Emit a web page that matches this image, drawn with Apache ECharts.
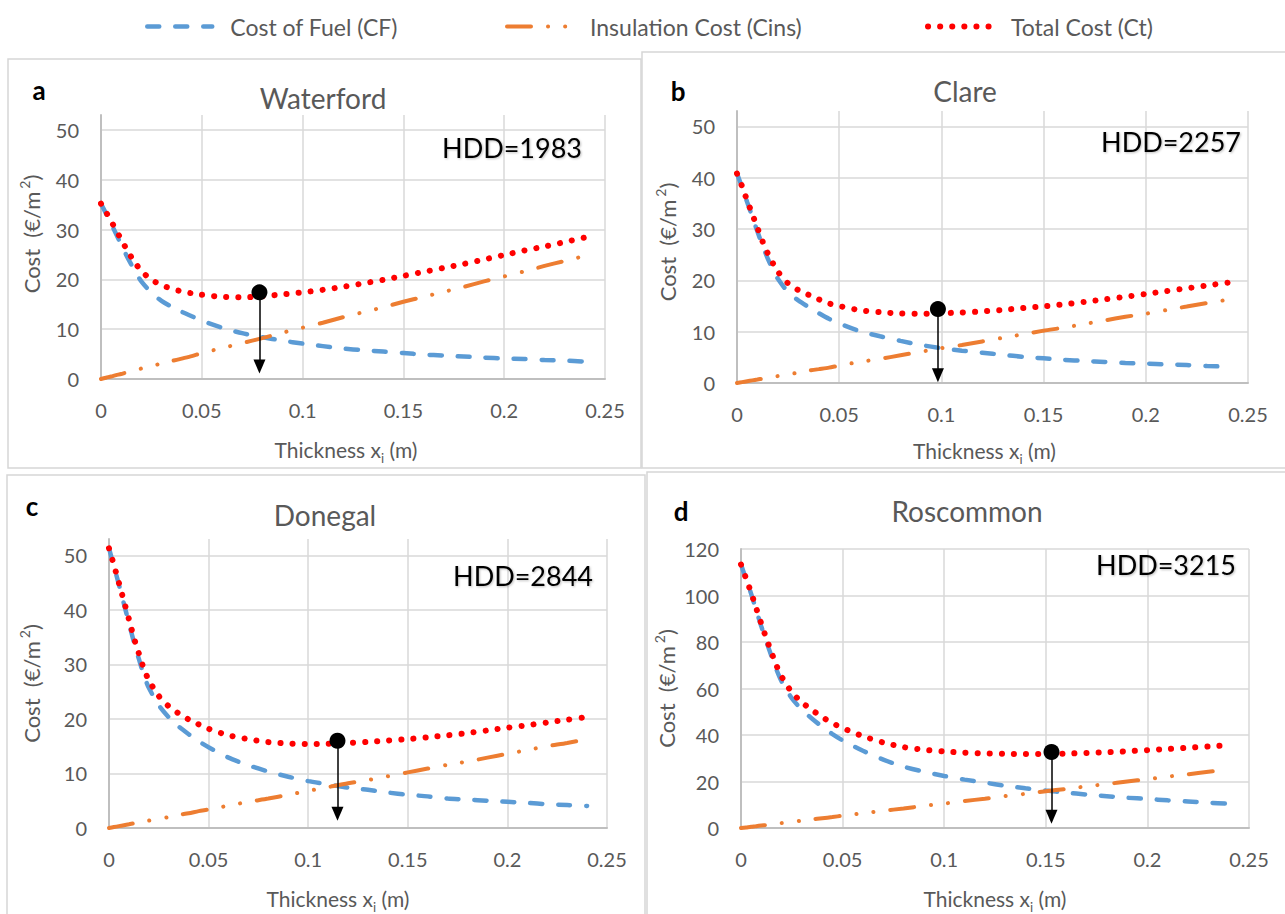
<!DOCTYPE html>
<html>
<head>
<meta charset="utf-8">
<title>Insulation thickness cost curves</title>
<script src="https://cdn.jsdelivr.net/npm/echarts@6/dist/echarts.min.js"></script>
<style>
  html, body { margin: 0; padding: 0; background: #fff; }
  #chart { width: 1285px; height: 914px; }
</style>
</head>
<body>
<div id="chart"></div>
<script>
var thickness = [0, 0.0025, 0.005, 0.0075, 0.01, 0.0125, 0.015, 0.0175, 0.02, 0.025, 0.03, 0.035, 0.04, 0.045, 0.05,
  0.06, 0.07, 0.08, 0.09, 0.1, 0.11, 0.12, 0.13, 0.14, 0.15, 0.16, 0.17, 0.18, 0.19, 0.2, 0.21, 0.22, 0.23, 0.24];

// Waterford
var waterfordCF = [35.2, 33.2, 31.2, 29.1, 27.0, 24.9, 23.0, 21.2, 19.6, 17.3, 15.7, 14.5, 13.5, 12.6, 11.7,
  10.3, 9.2, 8.4, 7.7, 7.1, 6.6, 6.1, 5.8, 5.5, 5.2, 4.9, 4.7, 4.5, 4.3, 4.1, 4.0, 3.8, 3.7, 3.5];
var waterfordCins = [0, 0.26, 0.5, 0.77, 1.0, 1.3, 1.5, 1.8, 2.1, 2.6, 3.1, 3.6, 4.1, 4.6, 5.2,
  6.2, 7.2, 8.2, 9.3, 10.3, 11.3, 12.4, 13.4, 14.4, 15.5, 16.5, 17.5, 18.5, 19.6, 20.6, 21.6, 22.7, 23.7, 24.7];
var waterfordCt = [35.2, 33.5, 31.7, 29.9, 28.0, 26.2, 24.5, 23.0, 21.7, 19.9, 18.9, 18.1, 17.6, 17.2, 16.9,
  16.5, 16.4, 16.6, 17.0, 17.4, 17.9, 18.5, 19.2, 19.9, 20.7, 21.5, 22.3, 23.1, 24.0, 24.9, 25.8, 26.6, 27.5, 28.4];

// Clare
var clareCF = [40.8, 38.1, 35.2, 32.4, 29.5, 26.8, 24.3, 22.2, 20.3, 17.7, 16.1, 14.8, 13.6, 12.5, 11.6,
  10.1, 9.1, 8.2, 7.4, 6.8, 6.3, 5.9, 5.5, 5.1, 4.8, 4.5, 4.3, 4.1, 3.9, 3.8, 3.6, 3.5, 3.3, 3.2];
var clareCins = [0, 0.17, 0.34, 0.51, 0.68, 0.85, 1.0, 1.2, 1.35, 1.7, 2.0, 2.4, 2.7, 3.0, 3.4,
  4.1, 4.7, 5.4, 6.1, 6.8, 7.4, 8.1, 8.8, 9.5, 10.2, 10.8, 11.5, 12.2, 12.9, 13.5, 14.2, 14.9, 15.6, 16.2];
var clareCt = [40.8, 38.3, 35.5, 32.9, 30.2, 27.6, 25.3, 23.4, 21.7, 19.4, 18.1, 17.2, 16.3, 15.5, 15.0,
  14.2, 13.8, 13.55, 13.5, 13.6, 13.75, 13.95, 14.25, 14.6, 14.95, 15.35, 15.8, 16.3, 16.8, 17.35, 17.9, 18.45, 19.0, 19.55];

// Donegal
var donegalCF = [51.3, 48.0, 44.6, 41.1, 37.6, 34.1, 31.0, 28.0, 25.7, 22.5, 20.3, 18.6, 17.2, 15.9, 14.8,
  12.9, 11.5, 10.35, 9.4, 8.6, 8.0, 7.4, 7.0, 6.5, 6.1, 5.8, 5.4, 5.2, 5.0, 4.8, 4.6, 4.35, 4.2, 4.05];
var donegalCins = [0, 0.17, 0.34, 0.51, 0.68, 0.85, 1.0, 1.2, 1.36, 1.7, 2.0, 2.4, 2.7, 3.1, 3.4,
  4.1, 4.8, 5.4, 6.1, 6.8, 7.5, 8.2, 8.8, 9.5, 10.2, 10.9, 11.6, 12.2, 12.9, 13.6, 14.3, 15.0, 15.6, 16.3];
var donegalCt = [51.3, 48.2, 44.9, 41.6, 38.3, 34.9, 32.0, 29.2, 27.1, 24.2, 22.3, 21.0, 19.9, 19.0, 18.2,
  17.0, 16.3, 15.75, 15.5, 15.4, 15.45, 15.6, 15.8, 16.05, 16.3, 16.65, 17.0, 17.4, 17.9, 18.4, 18.85, 19.35, 19.85, 20.35];

// Roscommon
var roscommonCF = [113.3, 107.0, 100.7, 93.7, 86.7, 80.2, 73.9, 68.0, 63.0, 55.8, 50.8, 47.0, 43.5, 40.4, 37.7,
  33.2, 29.4, 26.4, 24.2, 22.4, 20.8, 19.5, 18.2, 17.1, 16.1, 15.2, 14.4, 13.7, 13.0, 12.5, 11.9, 11.4, 10.9, 10.4];
var roscommonCins = [0, 0.26, 0.5, 0.8, 1.05, 1.3, 1.6, 1.8, 2.1, 2.6, 3.2, 3.7, 4.2, 4.7, 5.3,
  6.3, 7.4, 8.4, 9.5, 10.5, 11.6, 12.6, 13.7, 14.7, 15.8, 16.8, 17.9, 18.9, 20.0, 21.0, 22.1, 23.1, 24.2, 25.2];
var roscommonCt = [113.3, 107.3, 101.2, 94.5, 87.8, 81.5, 75.5, 69.8, 65.1, 58.4, 54.0, 50.7, 47.7, 45.1, 43.0,
  39.5, 36.8, 34.8, 33.7, 32.9, 32.4, 32.1, 31.9, 31.8, 31.85, 32.0, 32.3, 32.6, 33.0, 33.5, 34.0, 34.5, 35.05, 35.6];

// optimum thickness marker (x, cost) and where the arrow head sits
var optimumX = [0.0786, 0.0983, 0.1147, 0.1528];
var optimumCost = [17.4, 14.4, 16.0, 32.7];
var arrowEnd = [2.5, 1.5, 2.6, 4.8];

var counties = ['Waterford', 'Clare', 'Donegal', 'Roscommon'];
var panelLetters = ['a', 'b', 'c', 'd'];
var hddLabels = ['HDD=1983', 'HDD=2257', 'HDD=2844', 'HDD=3215'];
var yMax = [53, 53, 53, 120];
var yInterval = [10, 10, 10, 20];
var xTicks = [0, 0.25, 0.05]; // min, max, step

var seriesNames = ['Cost of Fuel (CF)', 'Insulation Cost (Cins)', 'Total Cost (Ct)'];
var panelData = [
  [waterfordCF, waterfordCins, waterfordCt],
  [clareCF, clareCins, clareCt],
  [donegalCF, donegalCins, donegalCt],
  [roscommonCF, roscommonCins, roscommonCt]
];

var chart = echarts.init(document.getElementById('chart'), null, { renderer: 'svg' });

var FONT = 'Lato, "Open Sans", sans-serif';
var GREY = '#595959';

var grids = [
  { left: 101, top: 115, width: 504, height: 264 },
  { left: 737, top: 111, width: 511, height: 272 },
  { left: 109, top: 539, width: 498, height: 297 },
  { left: 741, top: 549, width: 508, height: 288 }
];
var titlePos = [[323, 84], [965, 77], [325, 501], [967, 497]];
var letterPos = [[39, 77], [678, 78], [32, 493], [681, 498]];
var hddPos = [[582, 134], [1241, 128], [593, 562], [1236, 551]];
var yNameGap = [56, 56, 64, 58];
var yNameShift = [26, 10, 0, 0];   // padding that nudges the rotated name upwards
var xNameGap = [55, 52, 55, 55];
var xNameShift = [14, 16, 40, 0];  // padding that nudges the name to the left

var lineStyles = [
  { color: '#5b9bd5', width: 4.5, type: [12, 16], cap: 'round' },
  { color: '#ed7d31', width: 4, type: [24, 17, 0.1, 17, 0.1, 17], cap: 'round' },
  { color: '#ff0000', width: 6, type: [0.1, 12], cap: 'round' }
];

var titles = [];
var xAxes = [];
var yAxes = [];
var series = [];

for (var p = 0; p < 4; p++) {
  titles.push({
    text: counties[p], left: titlePos[p][0], top: titlePos[p][1], textAlign: 'center', padding: 0,
    textStyle: { fontFamily: FONT, fontSize: 28, fontWeight: 'normal', color: GREY }
  });
  titles.push({
    text: panelLetters[p], left: letterPos[p][0], top: letterPos[p][1], textAlign: 'center', padding: 0,
    textStyle: { fontFamily: FONT, fontSize: 26, fontWeight: 'bold', color: '#000' }
  });
  titles.push({
    text: hddLabels[p], left: hddPos[p][0], top: hddPos[p][1], textAlign: 'right', padding: 0,
    textStyle: {
      fontFamily: FONT, fontSize: 27, fontWeight: 'normal', color: '#000',
      textShadowColor: 'rgba(0,0,0,0.25)', textShadowBlur: 2, textShadowOffsetX: 1, textShadowOffsetY: 1
    }
  });

  xAxes.push({
    type: 'value', gridIndex: p, min: xTicks[0], max: xTicks[1], interval: xTicks[2],
    name: 'Thickness x{sub|i} (m)', nameLocation: 'middle', nameGap: xNameGap[p],
    nameTextStyle: {
      fontFamily: FONT, fontSize: 21, color: GREY, lineHeight: 30, padding: [0, xNameShift[p], 0, 0],
      rich: { sub: { fontFamily: FONT, fontSize: 13, color: GREY, lineHeight: 13, verticalAlign: 'bottom' } }
    },
    axisLine: { lineStyle: { color: '#bfbfbf', width: 2 } },
    axisTick: { show: false },
    axisLabel: { fontFamily: FONT, fontSize: 20, color: GREY, margin: 21 },
    splitLine: { show: true, lineStyle: { color: '#d9d9d9', width: 1.5 } }
  });
  yAxes.push({
    type: 'value', gridIndex: p, min: 0, max: yMax[p], interval: yInterval[p],
    name: 'Cost  (€/m{sup|2})', nameLocation: 'middle', nameGap: yNameGap[p],
    nameTextStyle: {
      fontFamily: FONT, fontSize: 22, color: GREY, lineHeight: 28, padding: [0, 0, 0, yNameShift[p]],
      rich: { sup: { fontFamily: FONT, fontSize: 14, color: GREY, lineHeight: 14, verticalAlign: 'top', padding: [0, 0, 0, 3] } }
    },
    axisLine: { show: true, lineStyle: { color: '#bfbfbf', width: 2 } },
    axisTick: { show: false },
    axisLabel: { fontFamily: FONT, fontSize: 20, color: GREY, margin: 22, showMaxLabel: yMax[p] % yInterval[p] === 0 },
    splitLine: { show: true, showMaxLine: yMax[p] % yInterval[p] === 0, lineStyle: { color: '#d9d9d9', width: 1.5 } }
  });

  for (var s = 0; s < 3; s++) {
    var vals = panelData[p][s];
    series.push({
      name: seriesNames[s], type: 'line', xAxisIndex: p, yAxisIndex: p,
      data: thickness.map(function (x, i) { return [x, vals[i]]; }),
      symbol: 'none', smooth: 0.25,
      lineStyle: lineStyles[s], itemStyle: { color: lineStyles[s].color },
      z: 2 + s
    });
  }

  series.push({
    name: 'optimum', type: 'scatter', xAxisIndex: p, yAxisIndex: p,
    data: [[optimumX[p], optimumCost[p]]],
    symbol: 'circle', symbolSize: 16, itemStyle: { color: '#000', opacity: 1 }, z: 10, silent: true,
    markLine: {
      silent: true, symbol: ['none', 'triangle'], symbolSize: [12, 14],
      label: { show: false },
      lineStyle: { color: '#000', width: 1.5, type: 'solid', opacity: 1 },
      data: [[{ coord: [optimumX[p], optimumCost[p]] }, { coord: [optimumX[p], arrowEnd[p]] }]]
    }
  });
}

var legendLeft = [145, 505, 925];
var legends = seriesNames.map(function (n, i) {
  return {
    data: [n], left: legendLeft[i], top: 15, padding: 0,
    itemWidth: 65, itemHeight: 8, selectedMode: false,
    lineStyle: { width: lineStyles[i].width },
    itemStyle: { color: 'transparent', borderWidth: 0 },
    textStyle: { fontFamily: FONT, fontSize: 23, color: GREY, padding: [0, 0, 0, 13] }
  };
});

var borderStyle = { fill: 'none', stroke: '#d6d6d6', lineWidth: 1.5 };

chart.setOption({
  animation: false,
  backgroundColor: '#fff',
  title: titles,
  legend: legends,
  grid: grids,
  xAxis: xAxes,
  yAxis: yAxes,
  series: series,
  graphic: [
    { type: 'rect', shape: { x: 8, y: 59, width: 633, height: 409 }, style: borderStyle, silent: true, z: -1 },
    { type: 'rect', shape: { x: 642, y: 52, width: 660, height: 416 }, style: borderStyle, silent: true, z: -1 },
    { type: 'rect', shape: { x: 7, y: 475, width: 638, height: 460 }, style: borderStyle, silent: true, z: -1 },
    { type: 'rect', shape: { x: 647, y: 472, width: 660, height: 460 }, style: borderStyle, silent: true, z: -1 }
  ]
});
</script>
</body>
</html>
